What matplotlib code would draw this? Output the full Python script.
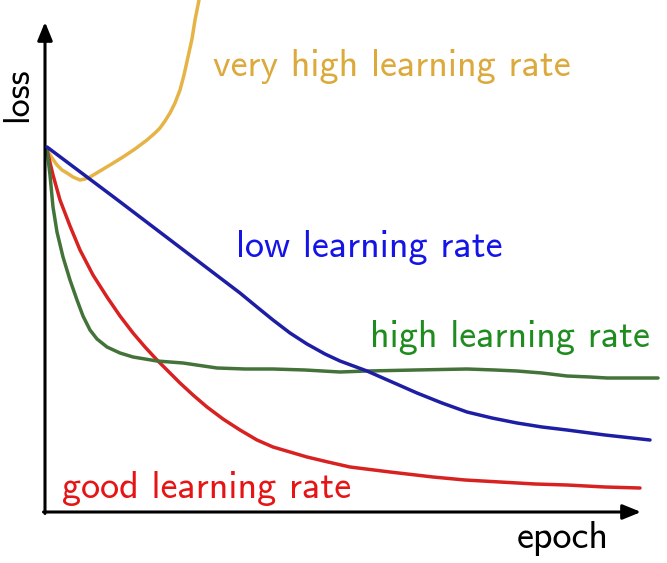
import matplotlib
matplotlib.use("Agg")
import matplotlib.pyplot as plt

# Data: epoch (x) and loss (y) values (arbitrary units)
low_epoch  = [2, 42, 70, 95, 120, 145, 170, 195, 212, 228, 245, 262, 280, 295, 322, 347, 372, 397, 422, 447, 472, 497, 522, 560, 605]
low_loss   = [365, 335, 314, 295, 276, 257, 238, 219, 205, 192, 179, 168, 158, 151, 141, 130, 119, 109, 100, 94, 89, 85, 82, 77, 72]

good_epoch = [2, 8, 15, 25, 35, 48, 62, 75, 88, 100, 112, 124, 135, 148, 162, 178, 195, 212, 228, 245, 262, 283, 305, 345, 388, 420, 455, 490, 522, 560, 595]
good_loss  = [362, 337, 312, 286, 262, 237, 215, 196, 179, 165, 152, 140, 129, 117, 105, 93, 82, 72, 65, 60, 55, 50, 45, 40, 35, 32, 30, 28, 27, 25, 24]

high_epoch = [2, 5, 8, 12, 18, 25, 32, 38, 45, 52, 62, 75, 88, 100, 112, 138, 172, 200, 228, 260, 295, 322, 370, 422, 450, 472, 497, 522, 545, 562, 613]
high_loss  = [362, 337, 305, 280, 255, 232, 212, 196, 182, 173, 165, 159, 155, 153, 151, 149, 144, 143, 143, 142, 140, 141, 142, 143, 142, 141, 139, 136, 135, 134, 134]

vhigh_epoch = [2, 7, 12, 17, 22, 28, 35, 40, 45, 55, 65, 78, 90, 102, 110, 115, 120, 125, 130, 135, 139, 143, 147, 150, 154]
vhigh_loss  = [362, 354, 347, 342, 339, 335, 332, 333, 335, 341, 347, 355, 363, 372, 379, 384, 391, 399, 409, 422, 437, 455, 473, 492, 512]

labels = ["very high learning rate", "low learning rate", "high learning rate", "good learning rate"]
axis_labels = ["epoch", "loss"]

fig = plt.figure(figsize=(6.67, 5.63), dpi=100)
ax = fig.add_axes([0, 0, 1, 1])
ax.set_xlim(-45, 622)
ax.set_ylim(-51, 512)
ax.axis("off")

lw = 2.5
kw = dict(lw=lw, solid_capstyle="round", solid_joinstyle="round")
ax.plot(vhigh_epoch, vhigh_loss, color="#E6B446", zorder=3, **kw)
ax.plot(good_epoch, good_loss, color="#D82222", zorder=3, **kw)
ax.plot(high_epoch, high_loss, color="#44733A", zorder=3, **kw)
ax.plot(low_epoch, low_loss, color="#1E1EA5", zorder=4, **kw)

# axes arrows
arrow = dict(arrowstyle="-|>,head_length=1.1,head_width=0.45", color="black", lw=2.2,
             shrinkA=0, shrinkB=0)
ax.annotate("", xy=(0, 490), xytext=(0, -1.5), arrowprops=arrow, annotation_clip=False)
ax.annotate("", xy=(596, 0), xytext=(-1.5, 0), arrowprops=arrow, annotation_clip=False)

font = "cmss10"
fs = 27.5
ax.text(168, 436, labels[0], color="#DCAA3C", fontsize=fs, family=font, ha="left", va="baseline")
ax.text(191, 255, labels[1], color="#1414E6", fontsize=fs, family=font, ha="left", va="baseline")
ax.text(325, 165, labels[2], color="#1E8C1E", fontsize=fs, family=font, ha="left", va="baseline")
ax.text(17, 14, labels[3], color="#E61414", fontsize=fs, family=font, ha="left", va="baseline")
ax.text(472, -36, axis_labels[0], color="black", fontsize=fs, family=font, ha="left", va="baseline")
ax.text(-18, 390, axis_labels[1], color="black", fontsize=26, family=font, rotation=90,
        ha="left", va="baseline", rotation_mode="anchor")

fig.savefig("out.png", dpi=100)
